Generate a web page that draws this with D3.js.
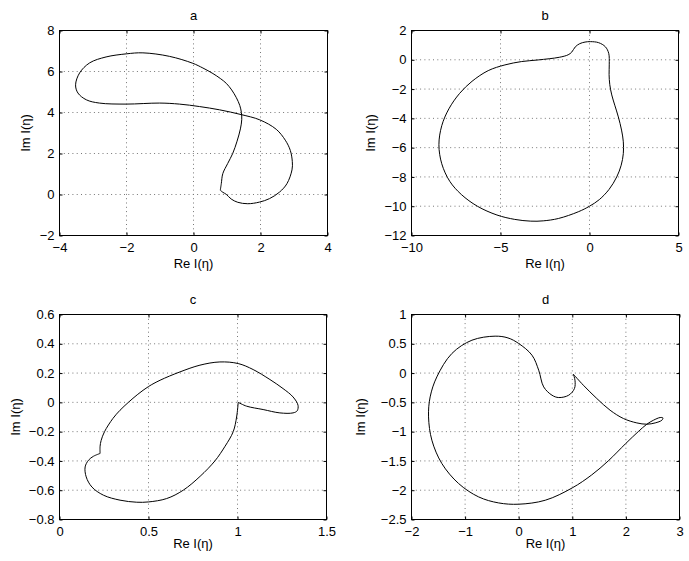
<!DOCTYPE html>
<html>
<head>
<meta charset="utf-8">
<script src="https://cdn.jsdelivr.net/npm/d3@7"></script>
<style>
  body { margin: 0; background: #fff; }
  text { font-family: "Liberation Sans", Arial, Helvetica, sans-serif; fill: #000; }
</style>
</head>
<body>
<div id="chart"></div>
<script>
// curve points [Re, Im]
const curveA = [
  [0.80, 0.21], [0.83, 0.53], [0.875, 1.02], [1.02, 1.51], [1.17, 2.0], [1.30, 2.6],
  [1.40, 3.2], [1.44, 3.65], [1.43, 4.0], [1.38, 4.35], [1.28, 4.72], [1.14, 5.1],
  [0.98, 5.42], [0.8, 5.66], [0.58, 5.9], [0.28, 6.17], [-0.02, 6.4], [-0.72, 6.74],
  [-1.51, 6.91], [-2.01, 6.86], [-2.61, 6.71], [-3.1, 6.42], [-3.4, 5.93], [-3.52, 5.35],
  [-3.45, 4.95], [-3.2, 4.62], [-2.81, 4.46], [-2.01, 4.41], [-1.01, 4.46], [-0.42, 4.41],
  [0.18, 4.29], [0.78, 4.13], [1.42, 3.9], [1.98, 3.64], [2.47, 3.18], [2.74, 2.65],
  [2.89, 2.15], [2.95, 1.6], [2.94, 1.2], [2.79, 0.53], [2.57, 0.12], [2.27, -0.2],
  [1.97, -0.37], [1.62, -0.45], [1.32, -0.38], [1.125, -0.22], [0.976, 0.01],
  [0.875, 0.108], [0.80, 0.21]
];
const curveB = [
  [-1.7, 0.17], [-1.2, 0.34], [-1.0, 0.52], [-0.8, 0.88], [-0.55, 1.1], [-0.25, 1.21],
  [0.05, 1.24], [0.51, 1.17], [0.89, 0.89], [1.08, 0.44], [1.11, -0.3], [1.1, -1.0],
  [1.14, -1.7], [1.25, -2.4], [1.42, -3.1], [1.62, -3.9], [1.8, -4.8], [1.9, -5.6],
  [1.9, -6.4], [1.78, -7.2], [1.53, -8.0], [1.1, -8.85], [0.55, -9.55], [0.0, -10.0],
  [-0.63, -10.38], [-1.75, -10.84], [-2.6, -11.0], [-3.3, -11.02], [-4.2, -10.9],
  [-5.2, -10.6], [-6.3, -10.0], [-7.2, -9.2], [-7.85, -8.3], [-8.3, -7.1], [-8.46, -5.8],
  [-8.3, -4.5], [-7.9, -3.35], [-7.3, -2.3], [-6.6, -1.47], [-5.69, -0.74],
  [-4.75, -0.35], [-3.81, -0.12], [-2.88, -0.01]
];
const curveC1 = [
  [1.004, 0], [1.051, -0.026], [1.144, -0.049], [1.238, -0.072], [1.312, -0.072],
  [1.335, -0.058], [1.34, -0.02], [1.312, 0.037], [1.256, 0.094], [1.182, 0.156],
  [1.088, 0.224], [1.004, 0.265], [0.901, 0.276], [0.789, 0.254], [0.677, 0.208],
  [0.565, 0.151], [0.5, 0.108], [0.44, 0.055], [0.387, 0.0], [0.34, -0.054], [0.3, -0.11],
  [0.253, -0.2], [0.234, -0.26], [0.228, -0.3], [0.228, -0.349]
];
const curveC2 = [
  [0.228, -0.349], [0.191, -0.368], [0.163, -0.395], [0.144, -0.441], [0.15, -0.509],
  [0.182, -0.578], [0.247, -0.634], [0.34, -0.668], [0.434, -0.682], [0.5, -0.68],
  [0.602, -0.657], [0.695, -0.6], [0.79, -0.505], [0.873, -0.4], [0.93, -0.3],
  [0.976, -0.2], [0.995, -0.1], [1.004, 0]
];
const curveD = [
  [1.02, -0.02], [1.206, -0.207], [1.457, -0.434], [1.705, -0.634], [1.954, -0.776],
  [2.204, -0.851], [2.391, -0.873], [2.546, -0.851], [2.671, -0.805], [2.69, -0.765],
  [2.639, -0.759], [2.514, -0.805], [2.391, -0.873], [2.23, -1.0], [2.0, -1.2],
  [1.67, -1.5], [1.36, -1.74], [1.0, -1.96], [0.496, -2.171], [0.0, -2.239],
  [-0.374, -2.217], [-0.748, -2.114], [-1.122, -1.885], [-1.434, -1.544], [-1.62, -1.146],
  [-1.682, -0.748], [-1.652, -0.407], [-1.527, -0.065], [-1.247, 0.334], [-0.873, 0.561],
  [-0.44, 0.63], [-0.2, 0.6], [0.0, 0.505], [0.248, 0.305], [0.373, 0.049], [0.466, -0.236],
  [0.621, -0.378], [0.747, -0.418], [0.933, -0.378], [1.04, -0.264], [1.05, -0.122], [1.02, -0.02]
];

// tick values (first and last are the axis limits)
const aXTicks = [-4, -2, 0, 2, 4], aYTicks = [-2, 0, 2, 4, 6, 8];
const bXTicks = [-10, -5, 0, 5], bYTicks = [-12, -10, -8, -6, -4, -2, 0, 2];
const cXTicks = [0, 0.5, 1, 1.5], cYTicks = [-0.8, -0.6, -0.4, -0.2, 0, 0.2, 0.4, 0.6];
const dXTicks = [-2, -1, 0, 1, 2, 3], dYTicks = [-2.5, -2, -1.5, -1, -0.5, 0, 0.5, 1];
const titles = ["a", "b", "c", "d"];
const xLabel = "Re I(η)", yLabel = "Im I(η)";

const width = 689, height = 561;

const svg = d3.select("#chart")
  .append("svg")
  .attr("width", width)
  .attr("height", height)
  .style("background", "#fff");

// panel boxes in pixels
const panels = [
  { title: titles[0], curves: [curveA], closed: false, xTicks: aXTicks, yTicks: aYTicks,
    left: 59.5, right: 327.5, top: 30.5, bottom: 235.5, ylabOff: 30, xlabOff: 32 },
  { title: titles[1], curves: [curveB], closed: true, xTicks: bXTicks, yTicks: bYTicks,
    left: 411.5, right: 678.5, top: 30.5, bottom: 235.5, ylabOff: 37, xlabOff: 32 },
  { title: titles[2], curves: [curveC1, curveC2], closed: false, xTicks: cXTicks, yTicks: cYTicks,
    left: 59.5, right: 326.5, top: 314.5, bottom: 519.5, ylabOff: 40, xlabOff: 28 },
  { title: titles[3], curves: [curveD], closed: false, xTicks: dXTicks, yTicks: dYTicks,
    left: 411.5, right: 679.5, top: 314.5, bottom: 519.5, ylabOff: 47, xlabOff: 28 }
];

const fmt = (d) => String(d).replace("-", "\u2212");

function drawPanel(p) {
  const x = d3.scaleLinear().domain(d3.extent(p.xTicks)).range([p.left, p.right]);
  const y = d3.scaleLinear().domain(d3.extent(p.yTicks)).range([p.bottom, p.top]);
  const g = svg.append("g");

  // dotted grid
  g.append("g")
    .selectAll("line")
    .data(p.xTicks.slice(1, -1))
    .join("line")
    .attr("x1", (d) => x(d)).attr("x2", (d) => x(d))
    .attr("y1", p.top).attr("y2", p.bottom);
  g.append("g")
    .selectAll("line")
    .data(p.yTicks.slice(1, -1))
    .join("line")
    .attr("x1", p.left).attr("x2", p.right)
    .attr("y1", (d) => y(d)).attr("y2", (d) => y(d));
  g.selectAll("line")
    .attr("stroke", "#777")
    .attr("stroke-width", 1)
    .attr("stroke-dasharray", "1,3.3");

  // axes with inward ticks
  const ax = [
    g.append("g").attr("transform", `translate(0,${p.bottom})`)
      .call(d3.axisBottom(x).tickValues(p.xTicks).tickFormat(fmt).tickSize(-3).tickPadding(7.3)),
    g.append("g").attr("transform", `translate(${p.left},0)`)
      .call(d3.axisLeft(y).tickValues(p.yTicks).tickFormat(fmt).tickSize(-3).tickPadding(5)),
    g.append("g").attr("transform", `translate(0,${p.top})`)
      .call(d3.axisTop(x).tickValues(p.xTicks).tickFormat("").tickSize(-3)),
    g.append("g").attr("transform", `translate(${p.right},0)`)
      .call(d3.axisRight(y).tickValues(p.yTicks).tickFormat("").tickSize(-3))
  ];
  ax.forEach((a) => {
    a.select(".domain").remove();
    a.selectAll(".tick line").attr("stroke", "#000");
    a.selectAll("text")
      .style("font-family", '"Liberation Sans", Arial, sans-serif')
      .style("font-size", "13px")
      .attr("fill", "#000");
  });

  // box
  g.append("rect")
    .attr("x", p.left).attr("y", p.top)
    .attr("width", p.right - p.left).attr("height", p.bottom - p.top)
    .attr("fill", "none")
    .attr("stroke", "#000")
    .attr("stroke-width", 1);

  // the curve
  const line = d3.line()
    .x((d) => x(d[0]))
    .y((d) => y(d[1]))
    .curve(p.closed ? d3.curveCatmullRomClosed : d3.curveCatmullRom);
  g.append("g")
    .selectAll("path")
    .data(p.curves)
    .join("path")
    .attr("d", line)
    .attr("fill", "none")
    .attr("stroke", "#000")
    .attr("stroke-width", 1);

  // title and labels
  const cx = (p.left + p.right) / 2, cy = (p.top + p.bottom) / 2;
  g.append("text")
    .attr("x", cx).attr("y", p.top - 10.5)
    .attr("text-anchor", "middle")
    .style("font-size", "13px")
    .text(p.title);
  g.append("text")
    .attr("x", cx).attr("y", p.bottom + p.xlabOff)
    .attr("text-anchor", "middle")
    .style("font-size", "13px")
    .text(xLabel);
  g.append("text")
    .attr("transform", `translate(${p.left - p.ylabOff},${cy}) rotate(-90)`)
    .attr("text-anchor", "middle")
    .style("font-size", "13px")
    .text(yLabel);
}

panels.forEach(drawPanel);
</script>
</body>
</html>
